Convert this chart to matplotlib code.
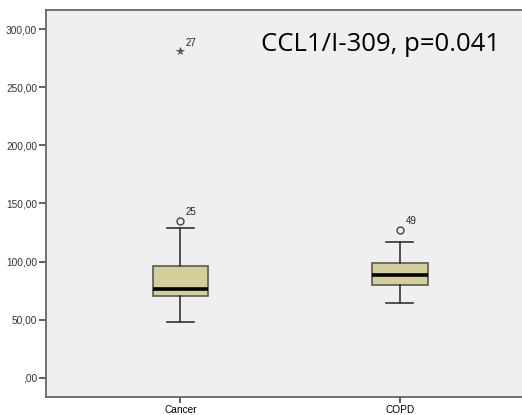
"""SPSS-style boxplot: CCL1/I-309 in Cancer vs COPD."""
import matplotlib
matplotlib.use("Agg")
import matplotlib.pyplot as plt

GROUPS = ["Cancer", "COPD"]
Q1 = [70.3, 79.8]
MED = [76.7, 88.9]
Q3 = [95.8, 98.4]
WHISLO = [48.4, 64.7]
WHISHI = [129.0, 116.6]
OUTLIERS = [[135.2], [127.3]]
OUTLIER_IDS = [["25"], ["49"]]
EXTREMES = [[281.0], []]
EXTREME_IDS = [["27"], []]
YTICKS = [0, 50, 100, 150, 200, 250, 300]
YTICKLABELS = [",00", "50,00", "100,00", "150,00", "200,00", "250,00", "300,00"]
TITLE = "CCL1/I-309, p=0.041"

fig = plt.figure(figsize=(5.22, 4.15), dpi=100)
ax = fig.add_axes([0.0881, 0.0434, 0.93, 0.9325])
ax.set_facecolor("#efefef")

stats = [dict(label=g, q1=a, med=m, q3=b, whislo=lo, whishi=hi, fliers=[])
         for g, a, m, b, lo, hi in zip(GROUPS, Q1, MED, Q3, WHISLO, WHISHI)]
pos = list(range(1, len(GROUPS) + 1))
ax.bxp(stats, positions=pos, widths=0.253, capwidths=0.124, patch_artist=True,
       boxprops=dict(facecolor="#d3ce9a", edgecolor="#5a5a50", linewidth=1.2),
       medianprops=dict(color="black", linewidth=2.6),
       whiskerprops=dict(color="#333333", linewidth=1.2),
       capprops=dict(color="#333333", linewidth=1.2), showfliers=False)

for p, vals, ids in zip(pos, OUTLIERS, OUTLIER_IDS):
    for v, t in zip(vals, ids):
        ax.plot(p, v, "o", mfc="none", mec="#444444", ms=5, mew=1)
        ax.annotate(t, (p, v), xytext=(4, 4), textcoords="offset points",
                    fontsize=7, family="Liberation Sans", color="#222222")
for p, vals, ids in zip(pos, EXTREMES, EXTREME_IDS):
    for v, t in zip(vals, ids):
        ax.plot(p, v, "*", color="#555555", ms=5.5, mew=0.6)
        ax.annotate(t, (p, v), xytext=(4, 4), textcoords="offset points",
                    fontsize=7, family="Liberation Sans", color="#222222")

ax.set_xlim(0.387, 2.6)
ax.set_ylim(-16.5, 316.5)
ax.set_xticks(pos)
ax.set_xticklabels(GROUPS, fontsize=7.3, family="Liberation Sans")
ax.set_yticks(YTICKS)
ax.set_yticklabels(YTICKLABELS, fontsize=7.3, family="Liberation Sans", color="#333333")
ax.tick_params(axis="y", length=5, width=1.2, color="#444444", pad=1.5)
ax.tick_params(axis="x", length=4, width=1.2, color="#444444", pad=2)
for s in ["left", "bottom", "top"]:
    ax.spines[s].set_color("#666666")
    ax.spines[s].set_linewidth(1.3)
ax.spines["right"].set_visible(False)

fig.text(0.728, 0.892, TITLE, fontsize=18.5, family="Open Sans",
         ha="center", va="center", color="black")

fig.savefig("out.png", dpi=100)
